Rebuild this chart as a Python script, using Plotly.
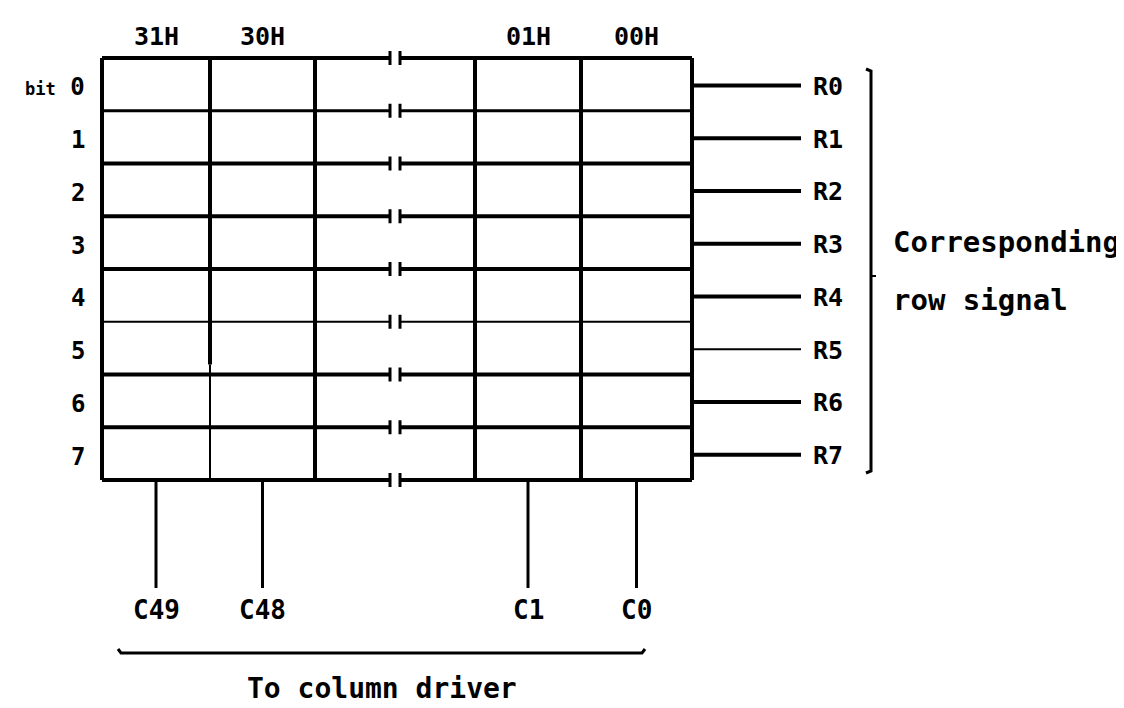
import plotly.graph_objects as go

# ---------------- data (labels) ----------------
col_addresses = ["31H", "30H", "", "01H", "00H"]
bit_labels = ["bit 0", "1", "2", "3", "4", "5", "6", "7"]
row_signals = ["R0", "R1", "R2", "R3", "R4", "R5", "R6", "R7"]
col_signals = ["C49", "C48", "", "C1", "C0"]
row_caption = ["Corresponding", "row signal"]
col_caption = "To column driver"

# ---------------- geometry (pixels) ----------------
W, H = 1124, 708
col_edges = [94, 202, 307, 467, 573, 684]
grid_top, grid_bottom = 50, 472
n_rows = len(bit_labels)
row_h = (grid_bottom - grid_top) / n_rows
row_edges = [grid_top + k * row_h for k in range(n_rows + 1)]
row_mid = [grid_top + (k + 0.5) * row_h for k in range(n_rows)]
col_mid = [(col_edges[i] + col_edges[i + 1]) / 2 for i in range(len(col_edges) - 1)]
break_x = 387
break_gap = 5
break_bar = 7
hline_w = [4, 3, 4, 4, 4, 2, 4, 4, 4]
rline_w = [4, 4, 4, 4, 4, 2, 4, 4]
r_line_end = 793
r_label_x = 803
brace_x = 863
c_line_bottom = 580
c_label_y = 602
brace2_y = 645

FONT = "DejaVu Sans Mono"

segs = {}


def seg(x0, y0, x1, y1, w):
    xs, ys = segs.setdefault(w, ([], []))
    xs += [x0, x1, None]
    ys += [y0, y1, None]


def poly(pts, w):
    xs, ys = segs.setdefault(w, ([], []))
    for (x, y) in pts:
        xs.append(x)
        ys.append(y)
    xs.append(None)
    ys.append(None)


# horizontal grid lines with break symbol
for k, y in enumerate(row_edges):
    w = hline_w[k]
    seg(col_edges[0], y, break_x - break_gap, y, w)
    seg(break_x + break_gap, y, col_edges[-1], y, w)
    seg(break_x - break_gap, y - break_bar, break_x - break_gap, y + break_bar, 3)
    seg(break_x + break_gap, y - break_bar, break_x + break_gap, y + break_bar, 3)

# vertical grid lines
for i, x in enumerate(col_edges):
    if i == 1:
        seg(x, grid_top, x, row_edges[6] - 10, 4)
        seg(x, row_edges[6] - 10, x, grid_bottom, 2)
    else:
        seg(x, grid_top, x, grid_bottom, 4)

# row signal lines
for k, y in enumerate(row_mid):
    seg(col_edges[-1], y + 1, r_line_end, y + 1, rline_w[k])

# right brace
mid_b = (row_edges[0] + grid_bottom) / 2 + 7
poly([(brace_x - 5, row_edges[0] + 11), (brace_x, row_edges[0] + 13),
      (brace_x, grid_bottom - 9), (brace_x - 5, grid_bottom - 7)], 3)
seg(brace_x, mid_b, brace_x + 5, mid_b, 2)

# column signal lines
for i, lab in enumerate(col_signals):
    if lab:
        seg(col_mid[i], grid_bottom, col_mid[i], c_line_bottom, 3)

# bottom brace
b_left, b_right = 110, 637
poly([(b_left, brace2_y - 4), (b_left + 3, brace2_y), (b_right - 3, brace2_y), (b_right, brace2_y - 4)], 3)

fig = go.Figure()
for w, (xs, ys) in sorted(segs.items()):
    fig.add_trace(go.Scatter(x=xs, y=ys, mode="lines", line=dict(color="black", width=w),
                             hoverinfo="skip", showlegend=False))

ann = []


def text(x, y, s, size, xanchor="center"):
    ann.append(dict(x=x, y=y, xref="x", yref="y", text=s, showarrow=False,
                    xanchor=xanchor, yanchor="middle",
                    font=dict(family=FONT, size=size, color="black", weight="bold")))


for i, lab in enumerate(col_addresses):
    if lab:
        text(col_mid[i], 28, lab, 25)

for k, lab in enumerate(bit_labels):
    if lab.startswith("bit"):
        s = "<span style='font-size:17px'>" + lab.split(" ")[0] + "</span> " + lab.split(" ")[1]
    else:
        s = lab
    text(79, row_mid[k] + 3, s, 24, xanchor="right")

for k, lab in enumerate(row_signals):
    text(r_label_x, row_mid[k] + 2, lab, 25, xanchor="left")

text(883, 234, row_caption[0], 29, xanchor="left")
text(883, 292, row_caption[1], 29, xanchor="left")

for i, lab in enumerate(col_signals):
    if lab:
        text(col_mid[i], c_label_y, lab, 26)

text((b_left + b_right) / 2, 680, col_caption, 28)

fig.update_layout(
    width=W, height=H, margin=dict(l=0, r=0, t=0, b=0),
    paper_bgcolor="white", plot_bgcolor="white",
    xaxis=dict(range=[0, W], visible=False, fixedrange=True),
    yaxis=dict(range=[H, 0], visible=False, fixedrange=True),
    annotations=ann, showlegend=False,
)

fig.write_html("out.html")
